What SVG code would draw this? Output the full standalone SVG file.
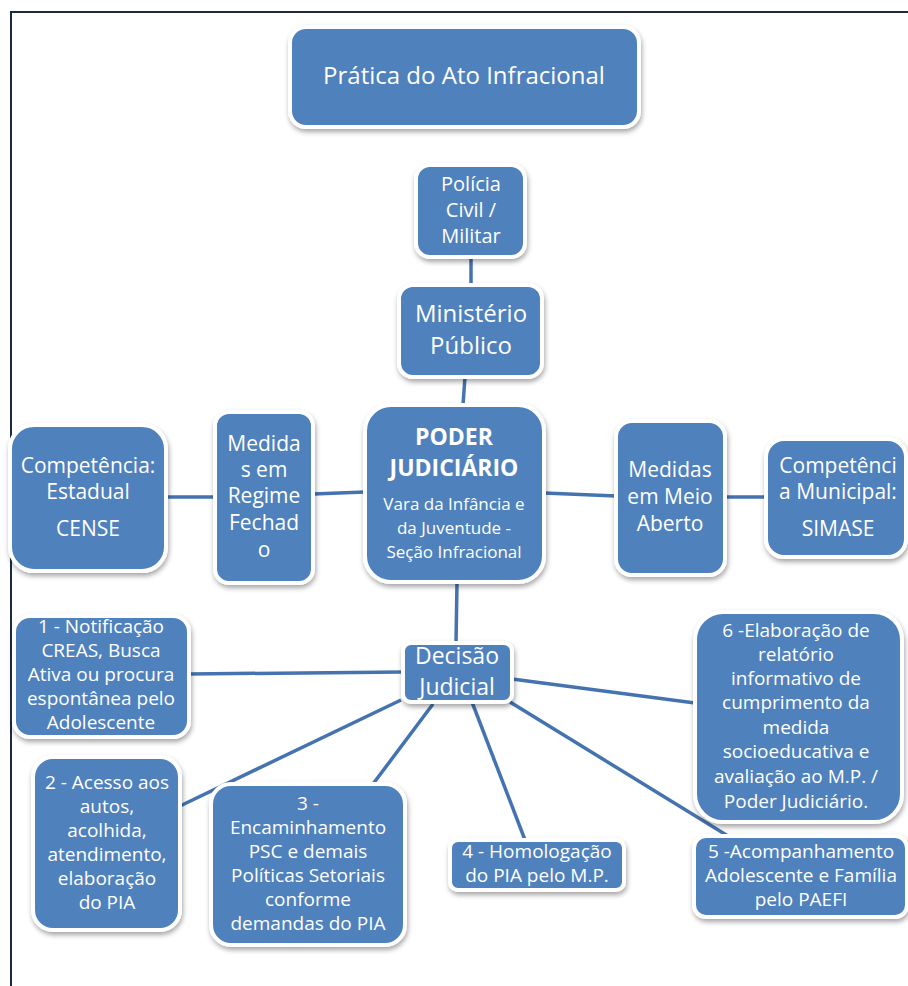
<svg xmlns="http://www.w3.org/2000/svg" width="908" height="986" viewBox="0 0 908 986">
<defs>
<filter id="sh" x="-20%" y="-20%" width="140%" height="140%">
<feDropShadow dx="1" dy="3" stdDeviation="2.5" flood-color="#000" flood-opacity="0.35"/>
</filter>
<style>
.box{fill:#4F81BD;stroke:#fff;stroke-width:4;filter:url(#sh)}
.t{font-family:"Open Sans","Noto Sans",sans-serif;fill:#fff;text-anchor:middle}
.s19{font-size:19px}
.s21{font-size:21px}
.s24{font-size:24px}
.b{font-weight:bold;font-size:23px}
.con line{stroke:#4573B0;stroke-width:3.5}
.frame{stroke:#1c2b3c;stroke-width:2;fill:none}
</style>
</defs>
<rect width="908" height="986" fill="#fff"/>
<path class="frame" d="M11,986 V12 H908"/>
<g class="con" id="connectors">
<line x1="471" y1="257" x2="471" y2="285"/>
<line x1="465" y1="377" x2="463" y2="405"/>
<line x1="166" y1="497" x2="215" y2="497"/>
<line x1="313" y1="494" x2="365" y2="492"/>
<line x1="544" y1="493" x2="616" y2="496"/>
<line x1="725" y1="497" x2="766" y2="497"/>
<line x1="457" y1="582" x2="456" y2="643"/>
<line x1="403" y1="672" x2="189" y2="674"/>
<line x1="401" y1="700" x2="180" y2="806"/>
<line x1="433" y1="704" x2="373" y2="784"/>
<line x1="472" y1="702" x2="525" y2="840"/>
<line x1="510" y1="702" x2="728" y2="836"/>
<line x1="512" y1="679" x2="695" y2="703"/>
</g>
<g id="n-pratica">
<rect class="box" x="290" y="27" width="349" height="100" rx="16"/>
<text class="t s24" x="464" y="84">Prática do Ato Infracional</text>
</g>
<g id="n-policia">
<rect class="box" x="416" y="165" width="109" height="92" rx="14"/>
<text class="t" style="font-size:20px" x="471"><tspan x="471" y="191">Polícia</tspan><tspan x="471" y="217">Civil /</tspan><tspan x="471" y="243">Militar</tspan></text>
</g>
<g id="n-mp">
<rect class="box" x="399" y="285" width="143" height="92" rx="14"/>
<text class="t s24" x="471"><tspan x="471" y="322">Ministério</tspan><tspan x="471" y="354">Público</tspan></text>
</g>
<g id="n-poder">
<rect class="box" x="365" y="405" width="179" height="177" rx="26"/>
<text class="t b" x="454"><tspan x="454" y="445">PODER</tspan><tspan x="454" y="476">JUDICIÁRIO</tspan></text>
<text class="t" style="font-size:17px" x="454"><tspan x="454" y="510">Vara da Infância e</tspan><tspan x="454" y="534">da Juventude -</tspan><tspan x="454" y="558">Seção Infracional</tspan></text>
</g>
<g id="n-fechado">
<rect class="box" x="215" y="412" width="98" height="171" rx="14"/>
<text class="t s21" x="264"><tspan x="264" y="451">Medida</tspan><tspan x="264" y="477">s em</tspan><tspan x="264" y="503">Regime</tspan><tspan x="264" y="530">Fechad</tspan><tspan x="264" y="557">o</tspan></text>
</g>
<g id="n-cense">
<rect class="box" x="10" y="425" width="156" height="146" rx="24"/>
<text class="t s21" x="88"><tspan x="88" y="473">Competência:</tspan><tspan x="88" y="499">Estadual</tspan><tspan x="88" y="536">CENSE</tspan></text>
</g>
<g id="n-aberto">
<rect class="box" x="616" y="421" width="109" height="154" rx="16"/>
<text class="t s21" x="670"><tspan x="670" y="477">Medidas</tspan><tspan x="670" y="504">em Meio</tspan><tspan x="670" y="531">Aberto</tspan></text>
</g>
<g id="n-simase">
<rect class="box" x="766" y="439" width="140" height="118" rx="18"/>
<text class="t s21" x="838"><tspan x="838" y="473">Competênci</tspan><tspan x="838" y="499">a Municipal:</tspan><tspan x="838" y="536">SIMASE</tspan></text>
</g>
<g id="n-decisao">
<rect class="box" x="403" y="643" width="109" height="59" rx="8"/>
<text class="t" style="font-size:23px" x="457"><tspan x="457" y="664">Decisão</tspan><tspan x="457" y="695">Judicial</tspan></text>
</g>
<g id="n-1">
<rect class="box" x="14" y="616" width="175" height="121" rx="16"/>
<text class="t s19" x="101"><tspan x="101" y="633">1 - Notificação</tspan><tspan x="101" y="657">CREAS, Busca</tspan><tspan x="101" y="681">Ativa ou procura</tspan><tspan x="101" y="705">espontânea pelo</tspan><tspan x="101" y="729">Adolescente</tspan></text>
</g>
<g id="n-2">
<rect class="box" x="33" y="757" width="147" height="173" rx="20"/>
<text class="t s19" x="107"><tspan x="107" y="789">2 - Acesso aos</tspan><tspan x="107" y="813">autos,</tspan><tspan x="107" y="837">acolhida,</tspan><tspan x="107" y="861">atendimento,</tspan><tspan x="107" y="885">elaboração</tspan><tspan x="107" y="909">do PIA</tspan></text>
</g>
<g id="n-3">
<rect class="box" x="211" y="784" width="194" height="161" rx="20"/>
<text class="t s19" x="308"><tspan x="308" y="810">3 -</tspan><tspan x="308" y="834">Encaminhamento</tspan><tspan x="308" y="858">PSC e demais</tspan><tspan x="308" y="882">Políticas Setoriais</tspan><tspan x="308" y="906">conforme</tspan><tspan x="308" y="930">demandas do PIA</tspan></text>
</g>
<g id="n-4">
<rect class="box" x="450" y="840" width="174" height="50" rx="8"/>
<text class="t s19" x="537"><tspan x="537" y="858">4 - Homologação</tspan><tspan x="537" y="882">do PIA pelo M.P.</tspan></text>
</g>
<g id="n-5">
<rect class="box" x="694" y="836" width="213" height="81" rx="12"/>
<text class="t s19" x="801"><tspan x="801" y="858">5 -Acompanhamento</tspan><tspan x="801" y="882">Adolescente e Família</tspan><tspan x="801" y="906">pelo PAEFI</tspan></text>
</g>
<g id="n-6">
<rect class="box" x="695" y="612" width="207" height="210" rx="28"/>
<text class="t s19" x="796"><tspan x="796" y="637">6 -Elaboração de</tspan><tspan x="796" y="661">relatório</tspan><tspan x="796" y="685">informativo de</tspan><tspan x="796" y="709">cumprimento da</tspan><tspan x="796" y="734">medida</tspan><tspan x="796" y="758">socioeducativa e</tspan><tspan x="796" y="783">avaliação ao M.P. /</tspan><tspan x="796" y="808">Poder Judiciário.</tspan></text>
</g>
</svg>
